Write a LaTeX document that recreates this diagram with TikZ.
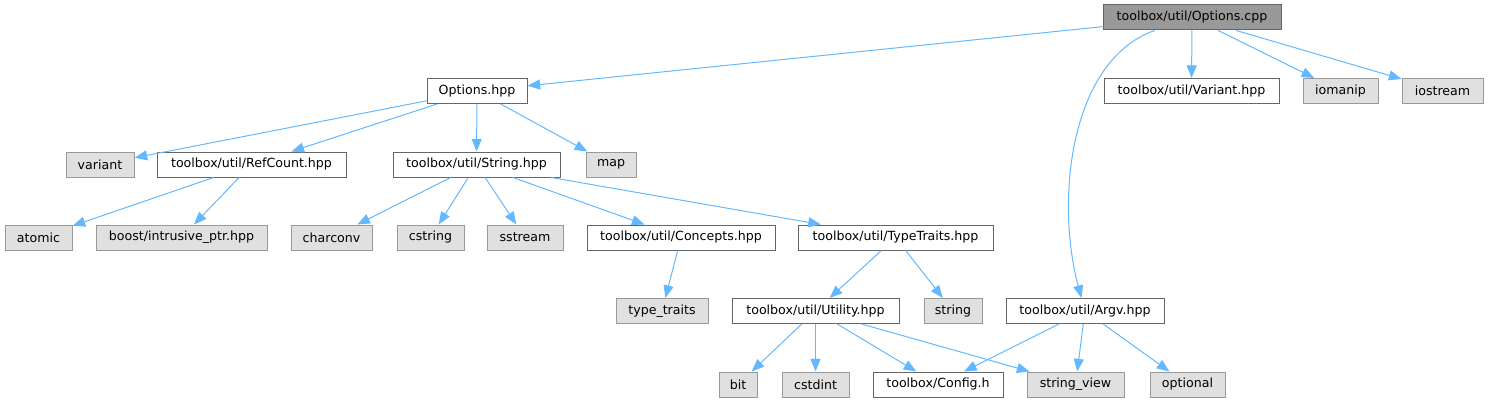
\documentclass[tikz,border=0pt]{standalone}
\usepackage{fontspec}
\setmainfont{DejaVu Sans}
\usepackage{xcolor}
\usepackage{tikz}
\usetikzlibrary{arrows.meta,calc}

\definecolor{edgeblue}{HTML}{63B8FF}
\definecolor{sysfill}{HTML}{E0E0E0}
\definecolor{sysline}{HTML}{999999}
\definecolor{fileline}{HTML}{666666}

\begin{document}
\begin{tikzpicture}[
    x=0.75pt, y=-0.75pt,
    every node/.style={font=\fontsize{9.45}{11}\selectfont, inner sep=0pt, minimum height=18.75pt, line width=0.75pt},
    wd/.style={minimum width=#1*0.75pt},
    file/.style={draw=fileline, fill=white},
    sys/.style={draw=sysline, fill=sysfill},
    root/.style={draw=fileline, fill=sysline},
    inc/.style={draw=edgeblue, line width=0.75pt, -{Triangle[length=9.5pt, width=7.5pt]}}
  ]
    \useasboundingbox (0,0) rectangle (1488,403);

    % Row 0: the file itself
    \node[root, wd=178] (cpp) at (1192, 17.5) {toolbox/util/Options.cpp};

    % Row 1
    \node[file, wd=100] (opthpp)   at (477,    91) {Options.hpp};
    \node[file, wd=175] (varhpp)   at (1191.5, 91) {toolbox/util/Variant.hpp};
    \node[sys,  wd=75]  (iomanip)  at (1340.5, 91) {iomanip};
    \node[sys,  wd=81]  (iostream) at (1442.5, 91) {iostream};

    % Row 2
    \node[sys,  wd=68]  (variant)  at (100,   164.5) {variant};
    \node[file, wd=189] (refcount) at (251.5, 164.5) {toolbox/util/RefCount.hpp};
    \node[file, wd=167] (strhpp)   at (476.5, 164.5) {toolbox/util/String.hpp};
    \node[sys,  wd=50]  (map)      at (611,   164.5) {map};

    % Row 3
    \node[sys,  wd=67]  (atomic)     at (38.5,  237.5) {atomic};
    \node[sys,  wd=171] (intrusive)  at (181.5, 237.5) {boost/intrusive\_ptr.hpp};
    \node[sys,  wd=81]  (charconv)   at (331.5, 237.5) {charconv};
    \node[sys,  wd=67]  (cstring)    at (430.5, 237.5) {cstring};
    \node[sys,  wd=76]  (sstream)    at (525,   237.5) {sstream};
    \node[file, wd=188] (concepts)   at (681,   237.5) {toolbox/util/Concepts.hpp};
    \node[file, wd=195] (typetraits) at (895.5, 237.5) {toolbox/util/TypeTraits.hpp};

    % Row 4
    \node[sys,  wd=92]  (typetr)  at (662,    311) {type\_traits};
    \node[file, wd=167] (utility) at (815.5,  311) {toolbox/util/Utility.hpp};
    \node[sys,  wd=58]  (string)  at (953,    311) {string};
    \node[file, wd=158] (argv)    at (1085,   311) {toolbox/util/Argv.hpp};

    % Row 5
    \node[sys,  wd=38]  (bit)      at (738,    384.5) {bit};
    \node[sys,  wd=67]  (cstdint)  at (815.5,  384.5) {cstdint};
    \node[file, wd=130] (config)   at (938,    384.5) {toolbox/Config.h};
    \node[sys,  wd=97]  (strview)  at (1075.5, 384.5) {string\_view};
    \node[sys,  wd=75]  (optional) at (1187.5, 384.5) {optional};

    % Options.cpp includes
    \draw[inc] (cpp) -- (opthpp);
    \draw[inc] (cpp) -- (varhpp);
    \draw[inc] (cpp) -- (iomanip);
    \draw[inc] (cpp) -- (iostream);
    \draw[inc] (cpp) .. controls (1070,60) and (1055,200) .. (argv);

    % Options.hpp includes
    \draw[inc] (opthpp) -- (variant);
    \draw[inc] (opthpp) -- (refcount);
    \draw[inc] (opthpp) -- (strhpp);
    \draw[inc] (opthpp) -- (map);

    % RefCount.hpp includes
    \draw[inc] (refcount) -- (atomic);
    \draw[inc] (refcount) -- (intrusive);

    % String.hpp includes
    \draw[inc] (strhpp) -- (charconv);
    \draw[inc] (strhpp) -- (cstring);
    \draw[inc] (strhpp) -- (sstream);
    \draw[inc] (strhpp) -- (concepts);
    \draw[inc] (strhpp) -- (typetraits);

    % Concepts.hpp / TypeTraits.hpp includes
    \draw[inc] (concepts) -- (typetr);
    \draw[inc] (typetraits) -- (utility);
    \draw[inc] (typetraits) -- (string);

    % Utility.hpp includes
    \draw[inc] (utility) -- (bit);
    \draw[inc] (utility) -- (cstdint);
    \draw[inc] (utility) -- (config);
    \draw[inc] (utility) -- (strview);

    % Argv.hpp includes
    \draw[inc] (argv) -- (config);
    \draw[inc] (argv) -- (strview);
    \draw[inc] (argv) -- (optional);

  \end{tikzpicture}
\end{document}
